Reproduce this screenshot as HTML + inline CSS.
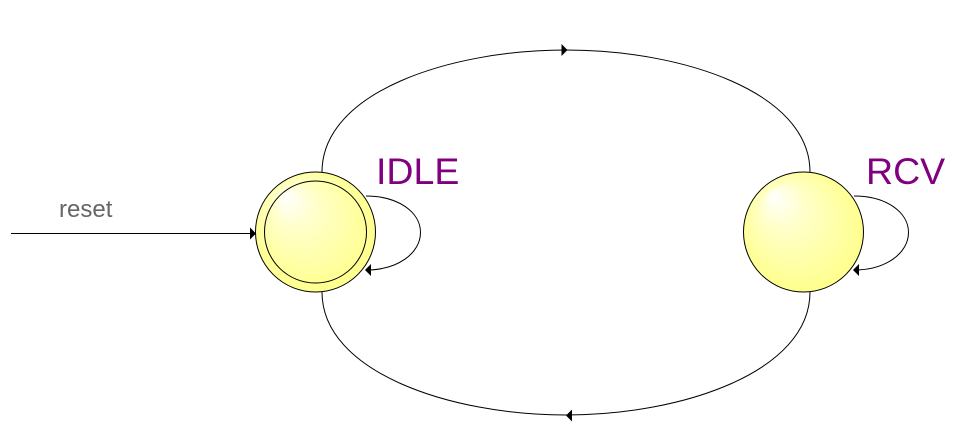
<!DOCTYPE html>
<html>
<head>
<meta charset="utf-8">
<style>
html,body{margin:0;padding:0;background:#fff;width:969px;height:442px;overflow:hidden}
svg{display:block}
text{font-family:"Liberation Sans",sans-serif}
</style>
</head>
<body>
<svg width="969" height="442" viewBox="0 0 969 442" xmlns="http://www.w3.org/2000/svg">
<defs>
<radialGradient id="g1" gradientUnits="userSpaceOnUse" cx="320" cy="236" r="76" fx="285" fy="195">
<stop offset="0" stop-color="#ffffff"/>
<stop offset="0.3" stop-color="#ffffc8"/>
<stop offset="0.8" stop-color="#ffff90"/>
<stop offset="1" stop-color="#ffff80"/>
</radialGradient>
<radialGradient id="g2" gradientUnits="userSpaceOnUse" cx="808" cy="236" r="76" fx="773" fy="195">
<stop offset="0" stop-color="#ffffff"/>
<stop offset="0.3" stop-color="#ffffc8"/>
<stop offset="0.8" stop-color="#ffff90"/>
<stop offset="1" stop-color="#ffff80"/>
</radialGradient>
</defs>
<rect width="969" height="442" fill="#fff"/>
<g fill="none" stroke="#000" stroke-width="1">
<path d="M322 172 C322 92 450 50 566 50 C682 50 810 92 810 172"/>
<path d="M810 292 C810 372 682 415 566 415 C450 415 322 372 322 292"/>
<path d="M366 196 C398 196 420.500 212 420.500 232.500 C420.500 253 398 270 366 270"/>
<path d="M854 196 C886 196 908.500 212 908.500 232.500 C908.500 253 886 270 854 270"/>
<path d="M11 233.500 H252"/>
</g>
<circle cx="315.500" cy="232" r="60" fill="url(#g1)" stroke="#000"/>
<circle cx="315.500" cy="232" r="51" fill="none" stroke="#000"/>
<circle cx="803.500" cy="232" r="60" fill="url(#g2)" stroke="#000"/>
<g fill="#000">
<path d="M256 233.500 L250 227.500 V239.500 Z"/>
<path d="M567.500 50 L561.500 44 V56 Z"/>
<path d="M566 415.500 L572 409.500 V421.500 Z"/>
<path d="M365 270 L371 264 V276 Z"/>
<path d="M853 270 L859 264 V276 Z"/>
</g>
<text x="59" y="217" font-size="24" fill="#666">reset</text>
<text x="376" y="184" font-size="37.500" fill="#800080">IDLE</text>
<text x="866" y="184" font-size="37.500" fill="#800080">RCV</text>
</svg>
</body>
</html>
